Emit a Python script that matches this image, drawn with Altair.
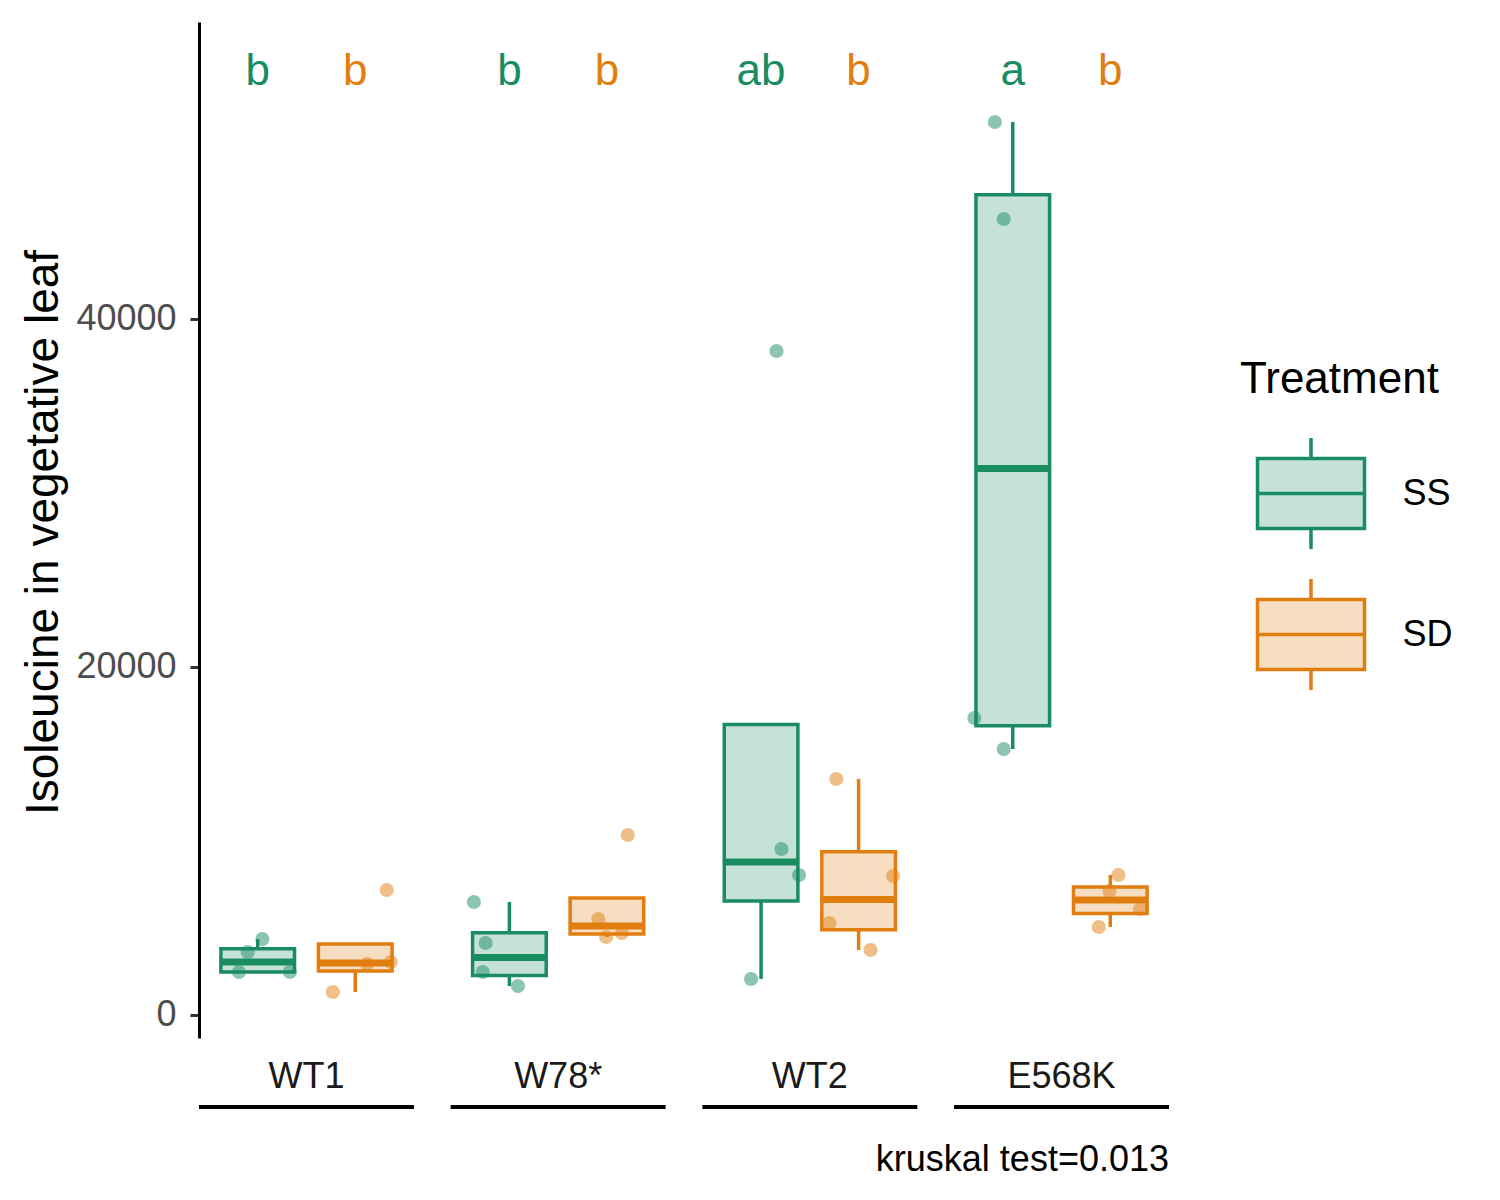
import altair as alt
import numpy as np
import pandas as pd

# ---------------- data ----------------
genotypes = ["WT1", "W78*", "WT2", "E568K"]
treatments = ["SS", "SD"]

# Isoleucine values (one list per genotype x treatment)
wt1_ss = [4368, 3620, 2471, 2471]
wt1_sd = [7184, 1322, 2931, 3046]
w78_ss = [6494, 4138, 2471, 1667]
w78_sd = [10345, 5517, 4483, 4713]
wt2_ss = [38161, 9540, 8046, 2069]
wt2_sd = [13563, 7989, 5287, 3736]
e568k_ss = [51322, 45747, 17069, 15287]
e568k_sd = [8046, 5057, 7126, 6092]

# horizontal jitter of each point (in units of the dodge step)
wt1_ss_jit = [0.05, -0.10, -0.19, 0.33]
wt1_sd_jit = [0.32, -0.23, 0.12, 0.36]
w78_ss_jit = [-0.36, -0.24, -0.27, 0.09]
w78_sd_jit = [0.21, -0.09, -0.01, 0.15]
wt2_ss_jit = [0.16, 0.21, 0.39, -0.10]
wt2_sd_jit = [-0.23, 0.35, -0.30, 0.12]
e568k_ss_jit = [-0.18, -0.09, -0.39, -0.09]
e568k_sd_jit = [0.08, -0.12, -0.01, 0.30]

# significance letters
ss_letters = ["b", "b", "ab", "a"]
sd_letters = ["b", "b", "b", "b"]
letter_level = 54195

caption = "kruskal test=0.013"

# ---------------- tables ----------------
groups = {
    ("WT1", "SS"): (wt1_ss, wt1_ss_jit),
    ("WT1", "SD"): (wt1_sd, wt1_sd_jit),
    ("W78*", "SS"): (w78_ss, w78_ss_jit),
    ("W78*", "SD"): (w78_sd, w78_sd_jit),
    ("WT2", "SS"): (wt2_ss, wt2_ss_jit),
    ("WT2", "SD"): (wt2_sd, wt2_sd_jit),
    ("E568K", "SS"): (e568k_ss, e568k_ss_jit),
    ("E568K", "SD"): (e568k_sd, e568k_sd_jit),
}
dodge = {"SS": -0.5, "SD": 0.5}

pt_rows, box_rows = [], []
for (g, t), (vals, jit) in groups.items():
    for v, j in zip(vals, jit):
        pt_rows.append({"Genotype": g, "Treatment": t, "value": v, "pos": dodge[t] + j})
    arr = np.array(vals, dtype=float)
    q1, med, q3 = np.percentile(arr, [25, 50, 75])
    iqr = q3 - q1
    inside = arr[(arr >= q1 - 1.5 * iqr) & (arr <= q3 + 1.5 * iqr)]
    lo = min(q1, inside.min())
    hi = max(q3, inside.max())
    box_rows.append({"Genotype": g, "Treatment": t, "lower": lo, "q1": q1,
                     "median": med, "q3": q3, "upper": hi})
points = pd.DataFrame(pt_rows)
boxes = pd.DataFrame(box_rows)

let_rows = []
for g, a, b in zip(genotypes, ss_letters, sd_letters):
    let_rows.append({"Genotype": g, "Treatment": "SS", "letter": a, "ly": letter_level})
    let_rows.append({"Genotype": g, "Treatment": "SD", "letter": b, "ly": letter_level})
letters = pd.DataFrame(let_rows)
geno_df = pd.DataFrame({"Genotype": genotypes})
cap_df = pd.DataFrame({"caption": [caption]})

# ---------------- styling ----------------
FONT = "Liberation Sans"
green, orange = "#1A8C62", "#E07F10"
light_green, light_orange = "#C6E2D8", "#F7DEC3"

x_enc = alt.X("Genotype:N", sort=genotypes,
              scale=alt.Scale(type="band", paddingInner=0.146, paddingOuter=0),
              axis=alt.Axis(title=None, domain=False, ticks=False, labelAngle=0,
                            labelFontSize=36, labelColor="#1A1A1A", labelPadding=21,
                            labelFont=FONT))
yscale = alt.Scale(domain=[-1322, 57069], nice=False, zero=False)
yaxis = alt.Axis(title="Isoleucine in vegetative leaf", values=[0, 20000, 40000],
                 format="d", grid=False, domainColor="black", domainWidth=3,
                 tickColor="#333333", tickWidth=3, tickSize=9,
                 labelFontSize=36, labelColor="#4D4D4D", labelPadding=14, labelFont=FONT,
                 titleFontSize=46, titleFontWeight="normal", titleColor="black",
                 titleFont=FONT, titleX=-155.5, titleY=510, titleAngle=270,
                 titleAlign="center", titleBaseline="middle", titleLimit=1000)


def Y(field):
    return alt.Y(field, scale=yscale, axis=yaxis)


xoff_nom = alt.XOffset("Treatment:N", sort=treatments,
                       scale=alt.Scale(type="band", domain=treatments, paddingInner=0.245,
                                       paddingOuter=0.2245))

sym_path = ("M-0.964,-0.63H0.964V0.63H-0.964Z M-0.964,0H0.964 "
            "M0,-0.63V-1 M0,0.63V1")
leg = alt.Legend(title="Treatment", orient="none", legendX=1041, legendY=336,
                 symbolType=sym_path, symbolSize=12321, symbolStrokeWidth=3.5,
                 titleFontSize=44, titleFontWeight="normal", titleColor="black",
                 titleFont=FONT, titleLimit=600, labelFont=FONT, labelFontSize=36,
                 labelColor="black", labelLimit=300,
                 rowPadding=16, labelOffset=34, symbolOffset=13.5, titlePadding=34,
                 padding=0)
fill_enc = alt.Fill("Treatment:N", scale=alt.Scale(domain=treatments,
                                                    range=[light_green, light_orange]),
                    legend=leg)
stroke_enc = alt.Stroke("Treatment:N", scale=alt.Scale(domain=treatments,
                                                        range=[green, orange]),
                        legend=leg)
color_enc = alt.Color("Treatment:N", scale=alt.Scale(domain=treatments,
                                                      range=[green, orange]),
                      legend=None)

box = alt.Chart(boxes).mark_bar(strokeWidth=3.5).encode(
    x=x_enc, xOffset=xoff_nom, y=Y("q1:Q"), y2="q3:Q", fill=fill_enc, stroke=stroke_enc)
whisk_hi = alt.Chart(boxes).mark_rule(strokeWidth=3.5).encode(
    x=x_enc, xOffset=xoff_nom, y=Y("q3:Q"), y2="upper:Q", stroke=stroke_enc)
whisk_lo = alt.Chart(boxes).mark_rule(strokeWidth=3.5).encode(
    x=x_enc, xOffset=xoff_nom, y=Y("lower:Q"), y2="q1:Q", stroke=stroke_enc)
median = alt.Chart(boxes).mark_bar(strokeWidth=7, fillOpacity=0).encode(
    x=x_enc, xOffset=xoff_nom, y=Y("median:Q"), y2="median:Q", stroke=stroke_enc)
pts = alt.Chart(points).mark_circle(size=200, opacity=0.5).encode(
    x=x_enc,
    xOffset=alt.XOffset("pos:Q", scale=alt.Scale(domain=[-1.097, 1.097], nice=False,
                                                  zero=False)),
    y=Y("value:Q"), color=color_enc)
lets = alt.Chart(letters).mark_text(fontSize=44, baseline="middle", font=FONT).encode(
    x=x_enc, xOffset=xoff_nom, y=Y("ly:Q"), text="letter:N", color=color_enc)
underline = alt.Chart(geno_df).mark_bar(color="black").encode(
    x=x_enc, y=alt.value(1083), y2=alt.value(1087))
cap = alt.Chart(cap_df).mark_text(align="right", baseline="middle", fontSize=36,
                                  font=FONT, color="black").encode(
    x=alt.value(970), y=alt.value(1138), text="caption:N")

chart = alt.layer(box, whisk_hi, whisk_lo, median, pts, lets, underline, cap).resolve_scale(
    xOffset="independent"
).properties(
    width=970, height=1016,
    padding={"left": 191, "top": 14, "right": 323, "bottom": 154},
    autosize=alt.AutoSizeParams(type="none"),
).configure(font=FONT).configure_view(stroke=None)

chart.save("out.html", embed_options={"renderer": "svg", "actions": False})
